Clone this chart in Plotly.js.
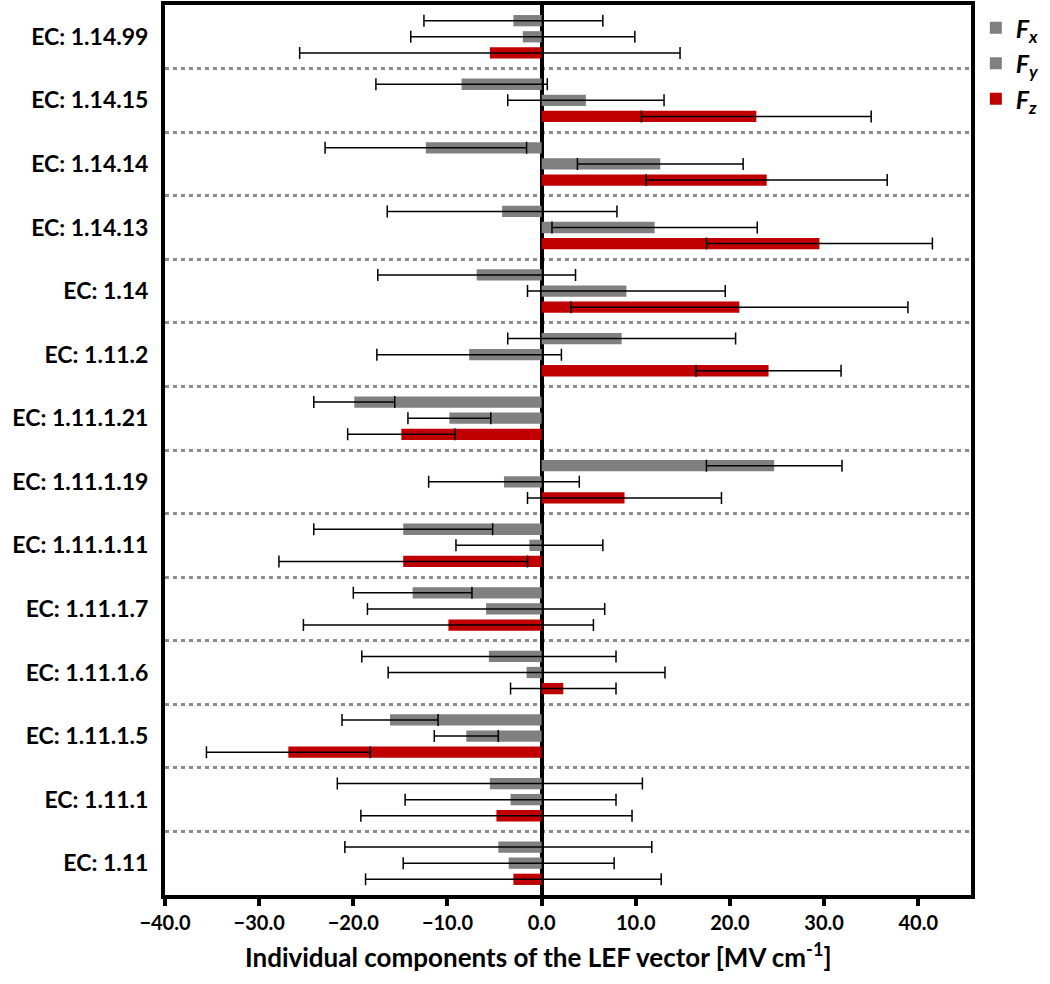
<!DOCTYPE html>
<html>
<head>
<meta charset="utf-8">
<script src="https://cdn.plot.ly/plotly-3.0.1.min.js"></script>
<style>
  html, body { margin: 0; padding: 0; background: #fff; }
  #chart { width: 1050px; height: 984px; }
</style>
</head>
<body>
<div id="chart"></div>
<script>
// Enzyme classes, top to bottom
const categories = [
  "EC: 1.14.99", "EC: 1.14.15", "EC: 1.14.14", "EC: 1.14.13", "EC: 1.14",
  "EC: 1.11.2", "EC: 1.11.1.21", "EC: 1.11.1.19", "EC: 1.11.1.11",
  "EC: 1.11.1.7", "EC: 1.11.1.6", "EC: 1.11.1.5", "EC: 1.11.1", "EC: 1.11"
];

// LEF components [MV cm-1] and their error (± value)
const fx    = [-3.0, -8.5, -12.3, -4.2, -6.9,  8.5, -19.9, 24.7, -14.7, -13.7, -5.6, -16.1, -5.5, -4.6];
const fxErr = [ 9.5,  9.1,  10.7, 12.2, 10.5, 12.1,   4.3,  7.2,   9.5,   6.3, 13.5,   5.1, 16.2, 16.3];
const fy    = [-2.0,  4.7,  12.6, 12.0,  9.0, -7.7,  -9.8, -4.0,  -1.3,  -5.9, -1.6,  -8.0, -3.3, -3.5];
const fyErr = [11.9,  8.3,   8.8, 10.9, 10.5,  9.8,   4.4,  8.0,   7.8,  12.6, 14.7,   3.4, 11.2, 11.2];
const fz    = [-5.5, 22.8,  23.9, 29.5, 21.0, 24.1, -14.9,  8.8, -14.7,  -9.9,  2.3, -26.9, -4.8, -3.0];
const fzErr = [20.2, 12.2,  12.8, 12.0, 17.9,  7.7,   5.7, 10.3,  13.2,  15.4,  5.6,   8.7, 14.4, 15.7];

const xTicks = [-40, -30, -20, -10, 0, 10, 20, 30, 40];

const FONT = "Lato, 'Open Sans', sans-serif";

function makeTrace(name, values, errs, color) {
  return {
    type: "bar",
    orientation: "h",
    name: name,
    y: categories,
    x: values,
    marker: { color: color, line: { width: 0 } },
    error_x: {
      type: "data",
      array: errs,
      visible: true,
      color: "#000",
      thickness: 1.5,
      width: 6
    }
  };
}

const traces = [
  makeTrace("<b><i>F</i></b><sub><b><i>x</i></b></sub>", fx, fxErr, "#808080"),
  makeTrace("<b><i>F</i></b><sub><b><i>y</i></b></sub>", fy, fyErr, "#808080"),
  makeTrace("<b><i>F</i></b><sub><b><i>z</i></b></sub>", fz, fzErr, "#c00000")
];

const layout = {
  width: 1050,
  height: 984,
  margin: { l: 165, r: 75, t: 5, b: 89 },
  paper_bgcolor: "#fff",
  plot_bgcolor: "#fff",
  barmode: "group",
  bargap: 0.24,
  bargroupgap: 0.3,
  font: { family: FONT, color: "#000" },
  showlegend: true,
  legend: {
    x: 1.006, y: 1.0, xanchor: "left", yanchor: "top",
    bgcolor: "rgba(0,0,0,0)",
    font: { family: FONT, size: 25, color: "#000" },
    tracegroupgap: 0,
    itemwidth: 30,
    traceorder: "normal"
  },
  xaxis: {
    range: [-40, 45.6],
    tickvals: xTicks,
    tickformat: ".1f",
    tickfont: { family: FONT, size: 20, weight: "bold" },
    ticks: "outside",
    ticklen: 7,
    tickwidth: 4,
    tickcolor: "#000",
    showline: true,
    linecolor: "#000",
    linewidth: 4,
    mirror: true,
    showgrid: false,
    zeroline: true,
    zerolinecolor: "#000",
    zerolinewidth: 4
  },
  yaxis: {
    type: "category",
    autorange: "reversed",
    tickson: "boundaries",
    ticks: "",
    ticklabelstandoff: 8,
    tickfont: { family: FONT, size: 23, weight: "bold" },
    showline: true,
    linecolor: "#000",
    linewidth: 4,
    mirror: true,
    showgrid: true,
    gridcolor: "#8c8c8c",
    gridwidth: 3,
    griddash: "4px,4px",
    zeroline: false
  },
  annotations: [{
    text: "<b>Individual components of the LEF vector [MV cm<sup>-1</sup>]</b>",
    xref: "x", yref: "paper",
    x: -0.3, y: -0.068,
    xanchor: "center", yanchor: "middle",
    showarrow: false,
    font: { family: FONT, size: 26, color: "#000" }
  }]
};

Plotly.newPlot("chart", traces, layout, { displayModeBar: false, staticPlot: true });
</script>
</body>
</html>
